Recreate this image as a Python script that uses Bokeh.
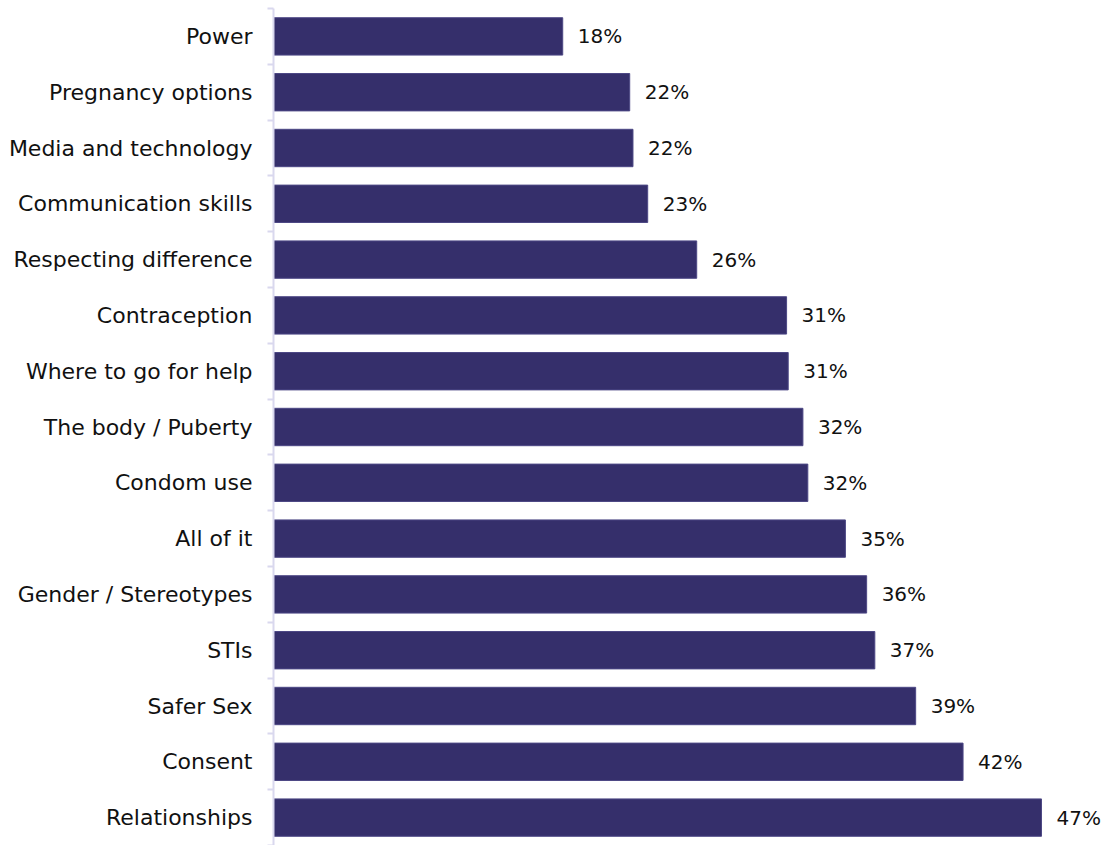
from bokeh.plotting import figure
from bokeh.models import FixedTicker, Range1d, ColumnDataSource
from bokeh.core.properties import value
from bokeh.embed import file_html
from bokeh.resources import INLINE

categories = ["Power", "Pregnancy options", "Media and technology", "Communication skills",
              "Respecting difference", "Contraception", "Where to go for help",
              "The body / Puberty", "Condom use", "All of it", "Gender / Stereotypes",
              "STIs", "Safer Sex", "Consent", "Relationships"]
values = [17.7, 21.8, 22.0, 22.9, 25.9, 31.4, 31.5, 32.4, 32.7, 35.0, 36.3, 36.8, 39.3, 42.2, 47.0]
labels = ["18%", "22%", "22%", "23%", "26%", "31%", "31%", "32%", "32%", "35%", "36%",
          "37%", "39%", "42%", "47%"]

n = len(categories)
# top-to-bottom order: Power at top
ypos = [n - i - 0.5 for i in range(n)]

FONT = "DejaVu Sans"
BAR = "#352f6b"

p = figure(width=1107, height=845, output_backend="svg", toolbar_location=None,
           x_range=Range1d(0, 51.04), y_range=Range1d(0, n),
           min_border_left=273, min_border_right=0, min_border_top=8, min_border_bottom=0)
p.outline_line_color = None
p.xgrid.visible = False
p.ygrid.visible = False
p.xaxis.visible = False

src = ColumnDataSource(dict(y=ypos, v=values, lab=labels, cat=categories))
p.hbar(y="y", right="v", left=0, height=0.67, source=src,
       fill_color=BAR, line_color="#4d4885", line_width=1)
p.text(x="v", y="y", text="lab", source=src, x_offset=15,
       text_baseline="middle", text_align="left",
       text_font=value(FONT), text_font_size="20px", text_color="#111111")

yax = p.yaxis[0]
yax.ticker = FixedTicker(ticks=ypos, minor_ticks=list(range(n + 1)))
yax.major_label_overrides = {y: c for y, c in zip(ypos, categories)}
yax.major_tick_out = 0
yax.major_tick_in = 0
yax.minor_tick_out = 6
yax.minor_tick_in = 0
yax.minor_tick_line_color = "#d9d8ee"
yax.axis_line_color = "#d9d8ee"
yax.axis_line_width = 2
yax.minor_tick_line_width = 2
yax.major_label_text_font = FONT
yax.major_label_text_font_size = "22px"
yax.major_label_text_color = "#111111"
yax.major_label_standoff = 15

open("out.html", "w").write(file_html(p, INLINE))
